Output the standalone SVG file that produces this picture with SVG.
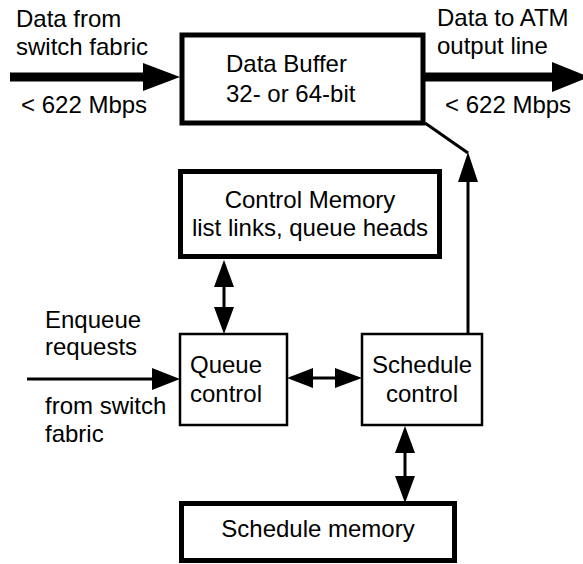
<svg xmlns="http://www.w3.org/2000/svg" width="583" height="564" viewBox="0 0 583 564">
<style>
text{font-family:"Liberation Sans",Arial,sans-serif;font-size:24px;fill:#000}
.thick{fill:#fff;stroke:#000;stroke-width:5}
.thin{fill:#fff;stroke:#000;stroke-width:2.5}
.ln{stroke:#000;stroke-width:3;fill:none}
.bus{stroke:#000;stroke-width:9;fill:none}
.hd{fill:#000;stroke:none}
</style>
<rect width="583" height="564" fill="#fff"/>
<g id="connectors">
<line class="bus" x1="10" y1="77" x2="150" y2="77"/>
<polygon class="hd" points="143,63 180,77 143,91"/>
<line class="bus" x1="425" y1="77" x2="556" y2="77"/>
<polygon class="hd" points="552,62 589,77 552,92"/>
<polyline class="ln" points="425,123 468,153"/>
<line class="ln" x1="468" y1="334" x2="468" y2="175"/>
<polygon class="hd" points="458,182 468,152 478,182"/>
<line class="ln" x1="224" y1="280" x2="224" y2="312"/>
<polygon class="hd" points="214,287 224,260 234,287"/>
<polygon class="hd" points="214,307 224,334 234,307"/>
<line class="ln" x1="305" y1="378" x2="342" y2="378"/>
<polygon class="hd" points="313,368 287,378 313,388"/>
<polygon class="hd" points="335,368 362,378 335,388"/>
<line class="ln" x1="405" y1="445" x2="405" y2="482"/>
<polygon class="hd" points="395,453 405,426 415,453"/>
<polygon class="hd" points="395,476 405,503 415,476"/>
<line class="ln" x1="27" y1="379" x2="156" y2="379"/>
<polygon class="hd" points="152,368 180,379 152,390"/>
</g>
<g id="labels">
<text x="16" y="27">Data from</text>
<text x="16" y="55">switch fabric</text>
<text x="21" y="113">&lt; 622 Mbps</text>
<text x="437" y="26">Data to ATM</text>
<text x="437" y="54">output line</text>
<text x="445" y="113">&lt; 622 Mbps</text>
<text x="45" y="328">Enqueue</text>
<text x="45" y="355">requests</text>
<text x="45" y="414">from switch</text>
<text x="45" y="442">fabric</text>
</g>
<g id="data-buffer">
<rect class="thick" x="182" y="35" width="241" height="88"/>
<text x="226" y="72">Data Buffer</text>
<text x="226" y="102">32- or 64-bit</text>
</g>
<g id="control-memory">
<rect class="thick" x="180.5" y="171.5" width="259" height="85"/>
<text x="310" y="208" text-anchor="middle">Control Memory</text>
<text x="310" y="236" text-anchor="middle">list links, queue heads</text>
</g>
<g id="queue-control">
<rect class="thin" x="180" y="334" width="107" height="91"/>
<text x="190" y="373">Queue</text>
<text x="190" y="402">control</text>
</g>
<g id="schedule-control">
<rect class="thin" x="362" y="334" width="120" height="91"/>
<text x="372" y="373">Schedule</text>
<text x="386" y="402">control</text>
</g>
<g id="schedule-memory">
<rect class="thick" x="181.5" y="503.5" width="273" height="57"/>
<text x="318" y="537" text-anchor="middle">Schedule memory</text>
</g>
</svg>
